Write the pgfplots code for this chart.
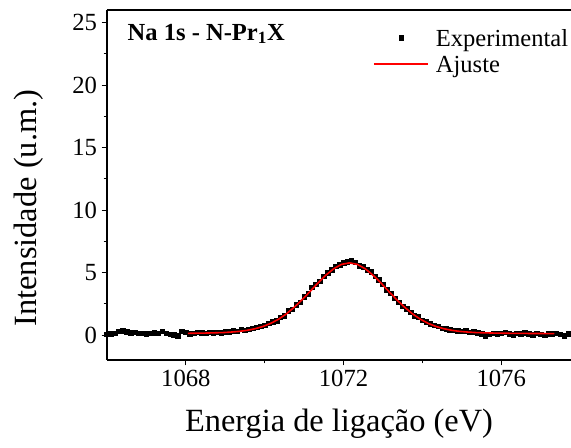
\documentclass[border=0pt]{standalone}
\usepackage{fontspec}
\setmainfont{Liberation Serif}
\usepackage{pgfplots}
\pgfplotsset{compat=1.18}
\usepackage{pgfplotstable}

\pgfplotstableread{
x y
1066.0 0.05
1066.1 0.08
1066.2 0.15
1066.3 0.28
1066.4 0.33
1066.5 0.25
1066.6 0.18
1066.7 0.22
1066.8 0.12
1066.9 0.15
1067.0 0.08
1067.1 0.12
1067.2 0.18
1067.3 0.14
1067.4 0.30
1067.5 0.12
1067.6 0.05
1067.7 0.02
1067.8 -0.05
1067.9 0.30
1068.0 0.22
1068.1 0.08
1068.2 0.15
1068.3 0.22
1068.4 0.18
1068.5 0.14
1068.6 0.20
1068.7 0.16
1068.8 0.22
1068.9 0.18
1069.0 0.26
1069.1 0.24
1069.2 0.35
1069.3 0.30
1069.4 0.45
1069.5 0.38
1069.6 0.45
1069.7 0.52
1069.8 0.60
1069.9 0.70
1070.0 0.78
1070.1 0.95
1070.2 1.05
1070.3 1.12
1070.4 1.42
1070.5 1.55
1070.6 1.92
1070.7 2.05
1070.8 2.40
1070.9 2.62
1071.0 3.05
1071.1 3.30
1071.2 3.80
1071.3 4.05
1071.4 4.30
1071.5 4.70
1071.6 4.98
1071.7 5.20
1071.8 5.50
1071.9 5.62
1072.0 5.78
1072.1 5.85
1072.2 5.92
1072.3 5.80
1072.4 5.55
1072.5 5.45
1072.6 5.22
1072.7 5.05
1072.8 4.70
1072.9 4.40
1073.0 4.05
1073.1 3.62
1073.2 3.35
1073.3 2.95
1073.4 2.60
1073.5 2.30
1073.6 2.10
1073.7 1.80
1073.8 1.55
1073.9 1.45
1074.0 1.18
1074.1 1.05
1074.2 0.88
1074.3 0.78
1074.4 0.70
1074.5 0.55
1074.6 0.50
1074.7 0.40
1074.8 0.38
1074.9 0.35
1075.0 0.30
1075.1 0.32
1075.2 0.22
1075.3 0.25
1075.4 0.18
1075.5 0.10
1075.6 -0.05
1075.7 0.05
1075.8 0.12
1075.9 0.08
1076.0 0.15
1076.1 0.20
1076.2 0.10
1076.3 0.02
1076.4 0.12
1076.5 0.08
1076.6 0.18
1076.7 0.10
1076.8 0.02
1076.9 0.12
1077.0 0.05
1077.1 -0.02
1077.2 0.10
1077.3 0.08
1077.4 0.15
1077.5 0.05
1077.6 -0.05
1077.7 0.10
}\expdata

\pgfplotstableread{
x y
1068.05 0.134
1068.15 0.137
1068.55 0.158
1068.95 0.195
1069.15 0.235
1069.35 0.287
1069.55 0.372
1069.75 0.498
1069.95 0.674
1070.15 0.925
1070.35 1.26
1070.55 1.69
1070.75 2.22
1070.95 2.82
1071.15 3.48
1071.35 4.16
1071.55 4.78
1071.75 5.30
1071.95 5.65
1072.15 5.77
1072.35 5.65
1072.55 5.30
1072.75 4.78
1072.95 4.16
1073.15 3.48
1073.35 2.82
1073.55 2.22
1073.75 1.69
1073.95 1.26
1074.15 0.925
1074.35 0.674
1074.55 0.498
1074.75 0.372
1074.95 0.287
1075.15 0.235
1075.35 0.195
1075.75 0.158
1076.15 0.137
1076.55 0.126
1076.95 0.118
1077.35 0.111
}\fitdata

\begin{document}
\begin{tikzpicture}
\path[use as bounding box] (-80.25pt,-66pt) rectangle (348pt,270pt);
\begin{axis}[
  at={(0pt,0pt)}, anchor=south west,
  scale only axis,
  width=348pt, height=262.5pt,
  xmin=1066, xmax=1077.77,
  ymin=-2, ymax=26,
  clip mode=individual,
  axis x line*=box,
  axis y line*=left,
  x axis line style={-},
  y axis line style={-},
  axis line style={line width=0.8pt},
  xtick={1068,1072,1076},
  ytick={0,5,10,15,20,25},
  minor x tick num=1,
  minor y tick num=1,
  xtick pos=left, ytick pos=left,
  tick align=outside,
  major tick length=4pt,
  minor tick length=2.5pt,
  every tick/.style={black, line width=0.7pt},
  /pgf/number format/assume math mode=true,
  /pgf/number format/1000 sep={},
  tick label style={font=\fontsize{18.5}{20}\selectfont},
  xlabel={Energia de ligação (eV)},
  ylabel={Intensidade (u.m.)},
  label style={font=\fontsize{24.3}{28}\selectfont},
  xlabel style={at={(axis description cs:0.5,-0.203)}, anchor=base},
  ylabel style={at={(axis description cs:-0.151,0.434)}, anchor=base, rotate=0},
  legend image code/.code={\draw[mark repeat=2,mark phase=2,#1] plot coordinates {(0pt,6pt) (20.5pt,6pt) (41pt,6pt)};},
  legend style={draw=none, fill=none, at={(axis description cs:0.5733,0.9457)}, anchor=north west,
    font=\fontsize{18.4}{22}\selectfont, inner sep=0pt, outer sep=0pt,
    nodes={inner sep=0pt, anchor=base west}, row sep=6pt, column sep=5pt},
  legend cell align=left,
]
\addplot[only marks, mark=square*, mark size=1.7pt, black] table[x=x,y=y] {\expdata};
\addlegendentry{Experimental}
\addplot[red, line width=1.2pt, no marks] table[x=x,y=y] {\fitdata};
\addlegendentry{Ajuste}
\node[anchor=base west, font=\fontsize{18.4}{22}\selectfont\bfseries] at (axis description cs:0.0345,0.914) {Na 1s - N-Pr\textsubscript{1}X};
\end{axis}
\end{tikzpicture}
\end{document}
